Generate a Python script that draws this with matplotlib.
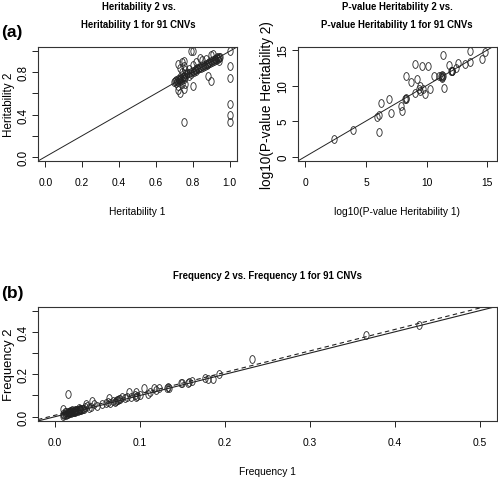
import matplotlib
matplotlib.use("Agg")
import matplotlib.pyplot as plt
import numpy as np
from matplotlib.path import Path

# heritability estimates (91 CNVs)
herit1 = [1.00, 1.00, 1.00, 1.00, 1.00, 1.00, 0.75, 0.79, 0.80, 0.88, 0.90, 0.80,
          0.73, 0.72, 0.75, 0.74, 0.72, 0.76,
          0.72, 0.74, 0.75, 0.73, 0.75, 0.76, 0.74, 0.77, 0.78, 0.80, 0.82, 0.84,
          0.85, 0.87, 0.90, 0.91, 0.93, 0.94, 0.92, 0.78, 0.79, 0.73, 0.76,
          0.70, 0.705, 0.71, 0.71, 0.715, 0.72, 0.72, 0.725, 0.73, 0.73, 0.735,
          0.74, 0.745, 0.75, 0.755, 0.76, 0.77, 0.78, 0.79, 0.80, 0.805, 0.81,
          0.815, 0.82, 0.825, 0.83, 0.835, 0.84, 0.845, 0.85, 0.855, 0.86, 0.865,
          0.87, 0.875, 0.88, 0.885, 0.89, 0.895, 0.90, 0.905, 0.91, 0.915, 0.92,
          0.925, 0.93, 0.935, 0.94, 0.945, 0.95]
herit2 = [1.00, 0.86, 0.75, 0.50, 0.40, 0.33, 0.33, 1.00, 1.00, 0.77, 0.72, 0.67,
          0.60, 0.63, 0.64, 0.69, 0.67, 0.69,
          0.88, 0.90, 0.91, 0.84, 0.86, 0.82, 0.80, 0.79, 0.83, 0.87, 0.90, 0.94,
          0.92, 0.93, 0.96, 0.97, 0.95, 0.91, 0.93, 0.77, 0.80, 0.76, 0.78,
          0.71, 0.72, 0.70, 0.73, 0.72, 0.71, 0.74, 0.73, 0.72, 0.74, 0.75,
          0.73, 0.76, 0.74, 0.77, 0.76, 0.78, 0.79, 0.78, 0.81, 0.80, 0.82,
          0.83, 0.81, 0.84, 0.83, 0.84, 0.85, 0.84, 0.86, 0.85, 0.87, 0.86,
          0.88, 0.87, 0.89, 0.88, 0.90, 0.89, 0.91, 0.90, 0.92, 0.91, 0.93,
          0.92, 0.94, 0.93, 0.95, 0.94, 0.95]

# log10 p-values of heritability
logp1 = [2.35, 3.9, 5.9, 6.1, 6.2, 6.9, 7.06, 6.1, 7.9, 7.95, 8.3, 8.25, 8.3, 8.7,
         9.0, 9.2, 9.05, 9.44, 9.44, 9.66, 9.85, 9.6, 10.1, 10.3, 10.6, 11.0, 11.35,
         11.35, 11.25, 11.4, 11.85, 12.1, 12.4, 12.55, 13.2, 13.6, 13.6, 14.6, 14.85,
         11.2, 11.3, 11.25, 12.0, 12.1, 12.05, 8.3, 9.4]
logp2 = [2.45, 3.7, 5.6, 5.9, 7.6, 8.1, 6.1, 3.4, 7.1, 6.4, 8.2, 8.1, 11.4, 10.5,
         13.1, 10.9, 8.9, 9.9, 9.3, 9.5, 8.8, 12.7, 12.7, 9.5, 11.4, 11.4, 14.3,
         11.4, 11.1, 9.7, 12.9, 12.0, 12.4, 13.2, 13.1, 13.3, 14.8, 13.8, 14.7,
         11.3, 11.5, 11.2, 12.0, 12.1, 12.0, 8.1, 9.5]

# CNV frequencies
freq1 = [0.015, 0.366, 0.428, 0.232, 0.193, 0.180, 0.186, 0.150, 0.157, 0.161,
         0.134, 0.132, 0.117, 0.122, 0.105, 0.109, 0.095, 0.095, 0.094, 0.087,
         0.085, 0.079, 0.073, 0.075, 0.071, 0.072, 0.064, 0.062, 0.065, 0.050,
         0.046, 0.044, 0.036, 0.038, 0.040, 0.010, 0.010, 0.011, 0.012, 0.013,
         0.013, 0.014, 0.015, 0.015, 0.016, 0.017, 0.017, 0.018, 0.019, 0.019,
         0.020, 0.021, 0.021, 0.022, 0.023, 0.023, 0.024, 0.025, 0.026, 0.027,
         0.028, 0.029, 0.030, 0.030, 0.031, 0.032, 0.033, 0.034, 0.035, 0.009,
         0.012, 0.020, 0.028, 0.042, 0.055, 0.060, 0.068, 0.074, 0.077, 0.082,
         0.090, 0.096, 0.100, 0.112, 0.119, 0.133, 0.148, 0.158, 0.176, 0.025,
         0.018]
freq2 = [0.108, 0.387, 0.431, 0.270, 0.199, 0.180, 0.177, 0.160, 0.160, 0.166,
         0.136, 0.134, 0.133, 0.137, 0.133, 0.108, 0.095, 0.115, 0.100, 0.118,
         0.093, 0.093, 0.080, 0.085, 0.070, 0.075, 0.088, 0.070, 0.066, 0.052,
         0.062, 0.076, 0.059, 0.050, 0.042, 0.005, 0.012, 0.010, 0.015, 0.008,
         0.020, 0.014, 0.022, 0.012, 0.018, 0.016, 0.024, 0.020, 0.018, 0.026,
         0.022, 0.020, 0.027, 0.024, 0.022, 0.030, 0.026, 0.028, 0.030, 0.029,
         0.032, 0.030, 0.034, 0.036, 0.031, 0.035, 0.038, 0.036, 0.048, 0.035,
         0.022, 0.032, 0.040, 0.048, 0.058, 0.066, 0.072, 0.078, 0.082, 0.088,
         0.092, 0.098, 0.104, 0.118, 0.126, 0.140, 0.157, 0.163, 0.182, 0.033,
         0.026]

fam = ['Liberation Sans', 'DejaVu Sans']

# open ellipse marker (R circles squashed horizontally)
t = np.linspace(0, 2 * np.pi, 40)
oval = Path(np.column_stack([0.68 * np.cos(t), np.sin(t)]), closed=True)


def r_axes(ax, x, y, xlim, ylim, xticks, xlabs, yticks, ylabs, xlab, ylab,
           ylabsize, ylabx):
    ax.plot(x, y, linestyle='none', marker=oval, ms=5.6, mfc='none',
            mec='#222222', mew=0.6)
    ax.set_xlim(xlim)
    ax.set_ylim(ylim)
    ax.set_xticks(xticks)
    ax.set_xticklabels(xlabs, family=fam, fontsize=7.4)
    ax.set_yticks(yticks)
    ax.set_yticklabels(ylabs, family=fam, fontsize=8.3, rotation=90, va='center')
    ax.tick_params(length=4.5, width=0.7, color='#222222')
    ax.tick_params(axis='x', pad=7)
    ax.tick_params(axis='y', pad=1.5)
    for s in ax.spines.values():
        s.set_linewidth(0.8)
        s.set_color('#333333')
    ax.set_xlabel(xlab, family=fam, fontsize=7.4, labelpad=14)
    ax.set_ylabel(ylab, family=fam, fontsize=ylabsize)
    ax.yaxis.set_label_coords(ylabx, 0.5)


fig = plt.figure(figsize=(4.98, 4.85), dpi=100)

ax1 = fig.add_axes([0.0763, 0.666, 0.3996, 0.235])
r_axes(ax1, herit1, herit2, (-0.04, 1.04), (-0.04, 1.04),
       [0, 0.2, 0.4, 0.6, 0.8, 1.0], ['0.0', '0.2', '0.4', '0.6', '0.8', '1.0'],
       [0, 0.2, 0.4, 0.6, 0.8, 1.0], ['0.0', '', '0.4', '', '0.8', ''],
       'Heritability 1', 'Heritability 2', 8.4, -0.118)
ax1.axline((0, 0), slope=1, color='#222222', lw=0.7)

ax2 = fig.add_axes([0.598, 0.666, 0.4, 0.235])
r_axes(ax2, logp1, logp2, (-0.62, 15.8), (-0.62, 15.42),
       [0, 5, 10, 15], ['0', '5', '10', '15'],
       [0, 5, 10, 15], ['0', '5', '10', '15'],
       'log10(P-value Heritability 1)', 'log10(P-value Heritability 2)', 9.8, -0.118)
ax2.axline((0, 0), slope=1, color='#222222', lw=0.7)

ax3 = fig.add_axes([0.0763, 0.130, 0.9217, 0.235])
r_axes(ax3, freq1, freq2, (-0.02, 0.52), (-0.02, 0.517),
       [0, 0.1, 0.2, 0.3, 0.4, 0.5], ['0.0', '0.1', '0.2', '0.3', '0.4', '0.5'],
       [0, 0.1, 0.2, 0.3, 0.4, 0.5], ['0.0', '', '0.2', '', '0.4', ''],
       'Frequency 1', 'Frequency 2', 9.4, -0.051)
ax3.axline((0, 0), slope=1, color='#222222', lw=0.8)
slope, icpt = np.polyfit(freq1, freq2, 1)
ax3.axline((0, icpt), slope=slope, color='#222222', lw=0.8, ls=(0, (4, 3)))

tsize = 6.9
fig.text(0.278, 0.985, 'Heritability 2 vs.', ha='center', va='center',
         family=fam, fontsize=tsize, fontweight='bold')
fig.text(0.278, 0.948, 'Heritability 1 for 91 CNVs', ha='center', va='center',
         family=fam, fontsize=tsize, fontweight='bold')
fig.text(0.797, 0.985, 'P-value Heritability 2 vs.', ha='center', va='center',
         family=fam, fontsize=tsize, fontweight='bold')
fig.text(0.797, 0.948, 'P-value Heritability 1 for 91 CNVs', ha='center',
         va='center', family=fam, fontsize=tsize, fontweight='bold')
fig.text(0.537, 0.431, 'Frequency 2 vs. Frequency 1 for 91 CNVs', ha='center',
         va='center', family=fam, fontsize=tsize, fontweight='bold')

fig.text(0.002, 0.932, '(a)', ha='left', va='center', family=fam,
         fontsize=12.5, fontweight='bold')
fig.text(0.002, 0.395, '(b)', ha='left', va='center', family=fam,
         fontsize=12.5, fontweight='bold')

fig.savefig('out.png', dpi=100)
